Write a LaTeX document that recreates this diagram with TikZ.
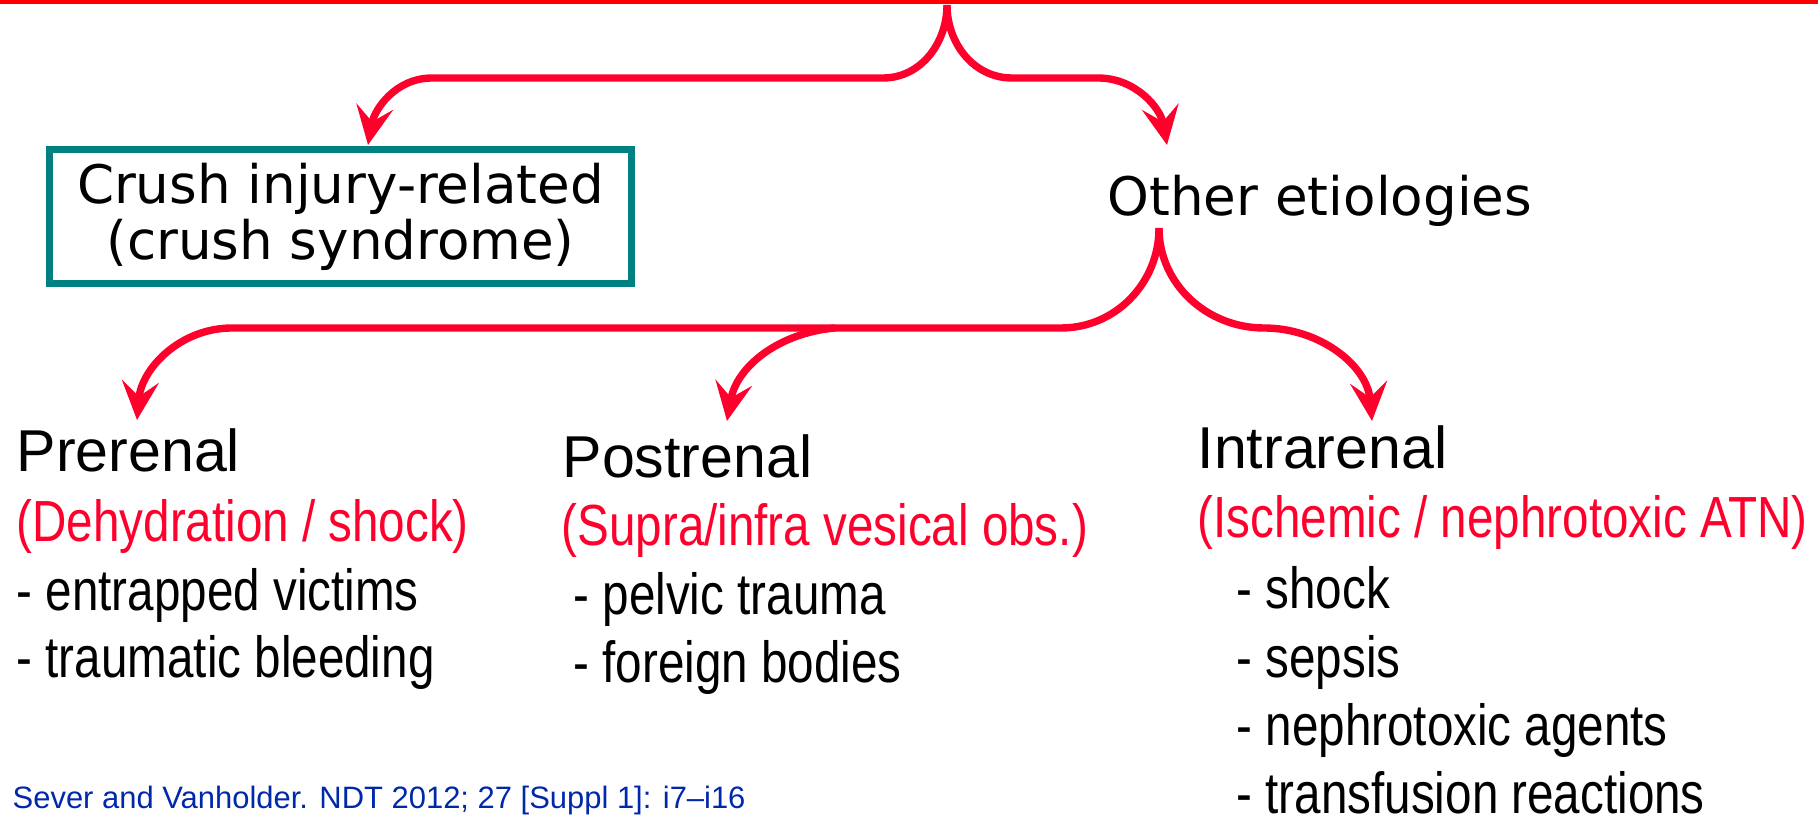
\documentclass[tikz,border=0pt]{standalone}
\usepackage{fontspec}
\usetikzlibrary{arrows.meta}
\newfontfamily\dejavu{DejaVu Sans}
\newfontfamily\arial{Liberation Sans}
\newfontfamily\arialnarrow[FakeStretch=0.82]{Liberation Sans}
\definecolor{linered}{RGB}{255,0,0}
\definecolor{arrowred}{RGB}{255,0,45}
\definecolor{boxteal}{RGB}{0,128,128}
\definecolor{refblue}{RGB}{0,40,170}

\begin{document}
\begin{tikzpicture}[x=0.01cm, y=0.01cm,
    brace/.style={draw=arrowred, line width=2.1pt},
    branch/.style={brace, -{Stealth[length=11pt, width=10.5pt, inset=4.3pt]}},
    title/.style={font=\dejavu\fontsize{15.1pt}{15.9pt}\selectfont},
    head/.style={anchor=base west, inner sep=0pt, font=\arial\fontsize{16.8pt}{18pt}\selectfont},
    cause/.style={anchor=base west, inner sep=0pt, text=arrowred, font=\arialnarrow\fontsize{16.5pt}{18pt}\selectfont},
    item/.style={anchor=base west, inner sep=0pt, font=\arialnarrow\fontsize{16.5pt}{18pt}\selectfont}]
  \useasboundingbox (0,0) rectangle (1818,-822);
  \fill[linered] (0,0) rectangle (1818,-4);

  % first split
  \node[title, draw=boxteal, line width=2pt, minimum width=5.82cm, minimum height=1.34cm, align=center] (crush) at (340.5,-216.5) {Crush injury-related\\(crush syndrome)};
  \node[title, anchor=base west, inner sep=0pt] (other) at (1107,-216) {Other etiologies};
  \coordinate (top) at (947,-5);
  \coordinate (crushtip) at (368,-145);
  \coordinate (othertip) at (1167,-145);
  \draw[branch] (top) to[out=-90, in=0] (883,-78) -- (432,-78) to[out=180, in=80] (crushtip);
  \draw[branch] (top) to[out=-90, in=180] (1012,-78) -- (1098,-78) to[out=0, in=100] (othertip);

  % second split
  \coordinate (split) at (1159,-228);
  \coordinate (fork) at (835,-328);
  \coordinate (pretip) at (137,-420);
  \coordinate (posttip) at (727,-421);
  \coordinate (intratip) at (1372,-421);
  \draw[branch] (split) to[out=-90, in=0] (1061,-328) -- (232,-328) to[out=180, in=85] (pretip);
  \draw[branch] (fork) to[out=185, in=80] (posttip);
  \draw[branch] (split) to[out=-90, in=180] (1264,-328) to[out=0, in=95] (intratip);

  \node[head] (pre) at (16,-472) {Prerenal};
  \node[cause] (precause) at (16,-542) {(Dehydration / shock)};
  \node[item] (pre1) at (16,-611) {- entrapped victims};
  \node[item] (pre2) at (16,-678) {- traumatic bleeding};

  \node[head] (post) at (562,-478) {Postrenal};
  \node[cause] (postcause) at (561,-546) {(Supra/infra vesical obs.)};
  \node[item] (post1) at (573,-615) {- pelvic trauma};
  \node[item] (post2) at (573,-683) {- foreign bodies};

  \node[head] (intra) at (1197,-469) {Intrarenal};
  \node[cause] (intracause) at (1197,-538) {(Ischemic / nephrotoxic ATN)};
  \node[item] (intra1) at (1236,-609) {- shock};
  \node[item] (intra2) at (1236,-678) {- sepsis};
  \node[item] (intra3) at (1236,-746) {- nephrotoxic agents};
  \node[item] (intra4) at (1236,-814) {- transfusion reactions};

  \node[anchor=base west, inner sep=0pt, text=refblue, font=\arial\fontsize{8.8pt}{10pt}\selectfont] (ref) at (12,-808) {Sever and Vanholder. NDT 2012; 27 [Suppl 1]: i7–i16};
\end{tikzpicture}
\end{document}
